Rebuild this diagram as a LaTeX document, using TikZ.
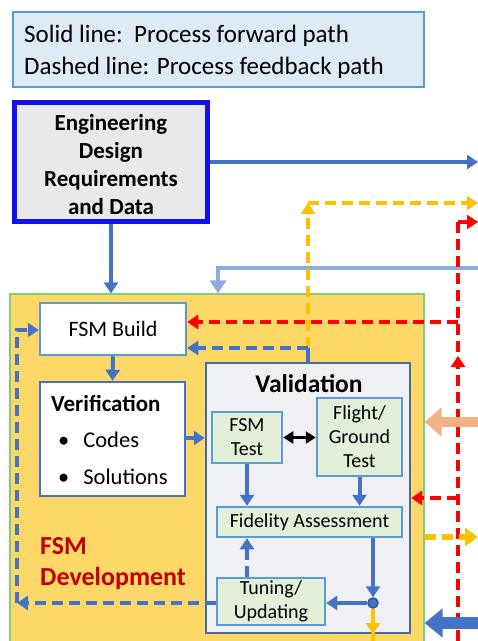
\documentclass[tikz,border=0pt]{standalone}
\usepackage{fontspec}
\setmainfont{Carlito}
\usetikzlibrary{arrows.meta}
\definecolor{mblue}{HTML}{4472C4}
\definecolor{lblue}{HTML}{8FAADC}
\definecolor{bordblue}{HTML}{5B9BD5}
\definecolor{legfill}{HTML}{DDEBF7}
\definecolor{engblue}{HTML}{1010F0}
\definecolor{engfill}{HTML}{E9E9EC}
\definecolor{devfill}{HTML}{FDD867}
\definecolor{devline}{HTML}{7CCF7C}
\definecolor{valfill}{HTML}{EEF0F4}
\definecolor{valline}{HTML}{4A6A9E}
\definecolor{gfill}{HTML}{E2F0D9}
\definecolor{myellow}{HTML}{FFC000}
\definecolor{mred}{HTML}{FF0000}
\definecolor{morange}{HTML}{F4B183}
\definecolor{dred}{HTML}{C00000}
\definecolor{jdark}{HTML}{2F5597}
\tikzset{
  box/.style={draw=bordblue, line width=2.5pt, fill=white, inner sep=0pt, font=\fontsize{22}{26}\selectfont},
  gbox/.style={draw=bordblue, line width=2.5pt, fill=gfill, inner sep=0pt, align=center, font=\fontsize{20}{24}\selectfont},
  barr/.style={draw=mblue, line width=4pt, -{Triangle[width=14pt,length=11pt]}},
  bdash/.style={draw=mblue, line width=4pt, dash pattern=on 11pt off 6pt},
  ydash/.style={draw=myellow, line width=4pt, dash pattern=on 11pt off 6pt},
  rdash/.style={draw=mred, line width=4pt, dash pattern=on 11pt off 6pt},
  tipb/.style={-{Triangle[width=14pt,length=11pt]}},
}
\begin{document}
\begin{tikzpicture}[x=1pt,y=-1pt]
\useasboundingbox (0,0) rectangle (478,641);
\fill[white] (0,0) rectangle (478,641);

% legend
\node[draw=bordblue, line width=1.5pt, fill=legfill, minimum width=411pt, minimum height=75pt, inner sep=0pt] (leg) at (218.5,49.5) {};
\node[anchor=west, align=left, inner sep=0pt, font=\fontsize{25}{32}\selectfont] (legtext) at (24,52) {Solid line:\ \ Process forward path\\Dashed line: Process feedback path};

% engineering
\node[draw=engblue, line width=5pt, fill=engfill, minimum width=193pt, minimum height=119pt, inner sep=0pt] (eng) at (111,162) {};
\node[align=center, inner sep=0pt, font=\bfseries\fontsize{23}{28}\selectfont] (engtext) at (111,165) {Engineering\\Design\\Requirements\\and Data};

% development region
\node[draw=devline, line width=1.2pt, fill=devfill, minimum width=414pt, minimum height=350pt, inner sep=0pt] (dev) at (217,469) {};

% boxes
\node[box, minimum width=146pt, minimum height=52pt] (build) at (113,329) {FSM Build};
\node[box, draw=mblue, minimum width=145pt, minimum height=114pt] (verif) at (112.5,439) {};
\node[anchor=west, inner sep=0pt, font=\bfseries\fontsize{23}{26}\selectfont] (vt) at (51,403) {Verification};
\node[anchor=west, inner sep=0pt, font=\fontsize{22.5}{26}\selectfont] (vc) at (58,440) {\textbullet\hspace{14pt}Codes};
\node[anchor=west, inner sep=0pt, font=\fontsize{22.5}{26}\selectfont] (vs) at (58,477) {\textbullet\hspace{14pt}Solutions};

\node[draw=valline, line width=2.5pt, fill=valfill, minimum width=204pt, minimum height=270pt, inner sep=0pt] (valid) at (308,498) {};
\node[inner sep=0pt, font=\bfseries\fontsize{25.5}{30}\selectfont] (vtitle) at (309,384) {Validation};

\node[gbox, minimum width=70pt, minimum height=51pt] (fsmt) at (247,437.5) {FSM\\Test};
\node[gbox, minimum width=85pt, minimum height=78pt] (flight) at (359.5,437) {Flight/\\Ground\\Test};
\node[gbox, minimum width=185pt, minimum height=30pt] (fid) at (309.5,522) {Fidelity Assessment};
\node[gbox, minimum width=108pt, minimum height=47pt] (tune) at (271,601.5) {Tuning/\\Updating};
\node[circle, draw=jdark, fill=mblue, line width=1.5pt, minimum size=10pt, inner sep=0pt] (junc) at (373,603) {};

\node[anchor=west, align=left, inner sep=0pt, text=dred, font=\bfseries\fontsize{26}{31}\selectfont] (devlab) at (40,564) {FSM\\Development};

% coordinates on the right edge
\coordinate (rEng) at (478,162);
\coordinate (rY) at (478,203);
\coordinate (cY) at (308,203);
\coordinate (rR) at (478,222);
\coordinate (cR) at (458,222);
\coordinate (rL) at (478,268);
\coordinate (cL) at (218,268);
\coordinate (rO) at (478,422);
\coordinate (rY2) at (478,537);
\coordinate (rB) at (478,623);
\coordinate (rBot) at (458,641);
\coordinate (rMid) at (458,356);
\coordinate (yBot) at (373,641);
\coordinate (lx) at (17,603);
\coordinate (lxt) at (17,330);
\coordinate (vTop) at (308,348);

% forward connectors
\draw[barr] (eng.east) -- (rEng);
\draw[barr] (eng.south) -- (eng.south |- dev.north);
\draw[draw=lblue, line width=4pt, -{Triangle[width=16pt,length=13pt]}] (rL) -- (cL) -- (cL |- dev.north);
\draw[barr] (build.south) -- (verif.north);
\draw[barr] (verif.east |- 0,438) -- (valid.west |- 0,438);
\draw[line width=3.5pt, {Triangle[width=12pt,length=10pt]}-{Triangle[width=12pt,length=10pt]}] (fsmt.east) -- (fsmt.east -| flight.west);
\draw[barr] (fsmt.south) -- (fsmt.south |- fid.north);
\draw[barr] (flight.south) -- (flight.south |- fid.north);
\draw[barr] (fid.south -| junc) -- (junc.north);
\draw[barr] (junc.west) -- (junc.west -| tune.east);
\draw[draw=myellow, line width=4pt] (junc.south) -- (yBot);
\draw[draw=myellow, line width=4pt, -{Triangle[width=14pt,length=11pt]}] (junc.south) -- (373,634);

% feedback connectors
\draw[ydash, tipb] (vTop) -- (cY);
\draw[ydash, tipb] (cY) -- (rY);
\draw[draw=mblue, line width=4pt] (valid.north -| vTop) -- (vTop);
\draw[bdash, tipb] (vTop) -- (vTop -| build.east);
\draw[rdash] (rBot) -- (cR);
\draw[rdash, tipb] (rBot) -- (rMid);
\draw[rdash, tipb] (cR) -- (rR);
\draw[rdash, tipb] (458,322) -- (build.east |- 0,322);
\draw[rdash, tipb] (458,498) -- (valid.east |- 0,498);
\draw[bdash, tipb] (tune.north -| fsmt.south) -- (fsmt.south |- fid.south);
\draw[bdash, tipb] (tune.west |- junc) -- (lx);
\draw[bdash, tipb] (lx) -- (lxt) -- (build.west |- lxt);

% side arrows
\draw[morange, line width=10pt, -{Triangle[width=28pt,length=17pt]}] (rO) -- (dev.east |- rO);
\draw[ydash, line width=6pt, -{Triangle[width=18pt,length=13pt]}] (dev.east |- rY2) -- (rY2);
\draw[mblue, line width=12pt, -{Triangle[width=28pt,length=18pt]}] (rB) -- (dev.east |- rB);
\end{tikzpicture}
\end{document}
